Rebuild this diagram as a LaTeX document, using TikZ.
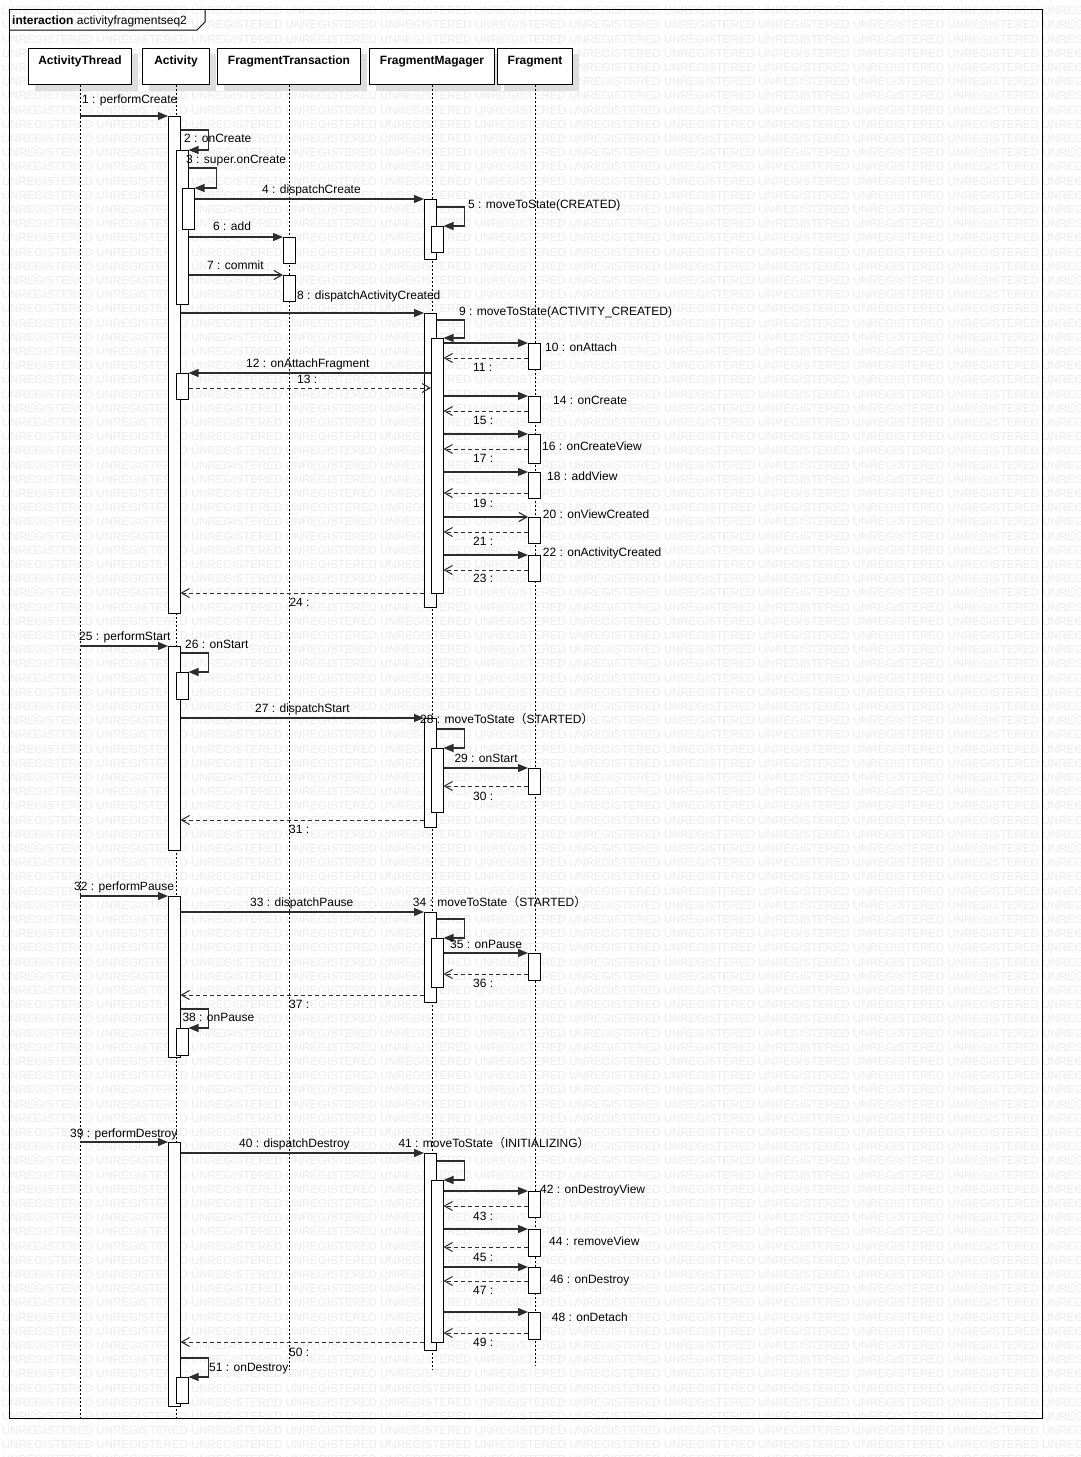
\documentclass[tikz,border=0pt]{standalone}
\usepackage{fontspec}
\setmainfont{Liberation Sans}
\newfontfamily\cjkfont{Noto Sans CJK SC}
\usepackage{tikz}
\usetikzlibrary{positioning, calc, arrows.meta, shadows}
\definecolor{inkgray}{RGB}{45, 45, 45}
\definecolor{wmgray}{RGB}{236, 236, 236}
\newcommand{\fwl}{{\cjkfont （}}
\newcommand{\fwr}{{\cjkfont ）}}
\newcommand{\wmtext}{UNREGISTERED UNREGISTERED UNREGISTERED UNREGISTERED UNREGISTERED UNREGISTERED UNREGISTERED UNREGISTERED UNREGISTERED UNREGISTERED UNREGISTERED UNREGISTERED}

\begin{document}
\begin{tikzpicture}[
      x=1pt, y=-1pt,
      font=\fontsize{12}{14}\selectfont,
      lifebox/.style={draw=black, fill=white, line width=1pt, outer sep=0pt, anchor=north,
        font=\fontsize{12}{14}\selectfont\bfseries, inner xsep=0pt, inner ysep=7.3pt,
        text height=9pt, text depth=12.9pt,
        drop shadow={shadow xshift=6pt, shadow yshift=-6pt, fill=black!13, opacity=1}},
      actbar/.style={draw=black, fill=white, line width=1pt, outer sep=0pt, inner sep=0pt,
        minimum width=12.5pt, anchor=north west},
      lifeline/.style={draw=black, line width=0.9pt, dash pattern=on 2pt off 2pt},
      calledge/.style={draw=inkgray, line width=1.1pt, -{Triangle[length=10pt, width=8pt]}},
      asyncedge/.style={draw=inkgray, line width=1.1pt, -{Straight Barb[length=8pt, width=9pt]}},
      replyedge/.style={draw=inkgray, line width=1pt, dash pattern=on 4pt off 3pt,
        -{Straight Barb[length=8pt, width=9pt]}},
      msglabel/.style={anchor=west, inner sep=0pt, text height=8.6pt, text depth=0pt},
      wmark/.style={anchor=west, inner sep=0pt, text=wmgray, font=\fontsize{11.5}{12}\selectfont}
    ]
      \fill[white] (0,0) rectangle (1080,1457);
      \useasboundingbox (0,0) rectangle (1080,1457);

      % Watermark
      \begin{scope}
        \clip (0,0) rectangle (1080,1457);
        \foreach \row in {0,...,103}
          \node[wmark] (wm\row) at (1.7, {-3.5+14.2*\row}) {\wmtext};
      \end{scope}

      % Frame
      \draw[line width=1pt] (9.5,9.5) rectangle (1042.5,1418);
      \draw[line width=1pt] (9.5,30) -- (197,30) -- (205,22) -- (205,9.5);
      \node[msglabel] (title) at (12,20) {\textbf{interaction} activityfragmentseq2};

      % Lifelines
      \node[lifebox, minimum width=103pt] (hAT) at (80,48) {ActivityThread};
      \node[lifebox, minimum width=67pt] (hAct) at (176,48) {Activity};
      \node[lifebox, minimum width=143pt] (hFT) at (289,48) {FragmentTransaction};
      \node[lifebox, minimum width=125pt] (hFM) at (432,48) {FragmentMagager};
      \node[lifebox, minimum width=75pt] (hFr) at (535,48) {Fragment};

      \draw[lifeline] (hAT.south) -- (hAT.south |- 0,1418);
      \draw[lifeline] (hAct.south) -- (hAct.south |- 0,1418);
      \draw[lifeline] (hFT.south) -- (hFT.south |- 0,1370);
      \draw[lifeline] (hFM.south) -- (hFM.south |- 0,1370);
      \draw[lifeline] (hFr.south) -- (hFr.south |- 0,1365);

      % Activations: Activity
      \node[actbar, minimum height=497pt] (aA1) at (168,116) {};
      \node[actbar, minimum height=154pt] (aA1a) at (176,150) {};
      \node[actbar, minimum height=41pt] (aA1b) at (182,188) {};
      \node[actbar, minimum height=26pt] (aA1c) at (176,373) {};
      \node[actbar, minimum height=204pt] (aA2) at (168,646) {};
      \node[actbar, minimum height=27pt] (aA2a) at (176,672) {};
      \node[actbar, minimum height=161pt] (aA3) at (168,896) {};
      \node[actbar, minimum height=27pt] (aA3a) at (176,1028) {};
      \node[actbar, minimum height=264pt] (aA4) at (168,1142) {};
      \node[actbar, minimum height=26pt] (aA4a) at (176,1377) {};

      % Activations: FragmentTransaction
      \node[actbar, minimum height=26pt] (fT1) at (283,237) {};
      \node[actbar, minimum height=26pt] (fT2) at (283,275) {};

      % Activations: FragmentMagager
      \node[actbar, minimum height=60pt] (fM1) at (424,199) {};
      \node[actbar, minimum height=26pt] (fM1a) at (431,226) {};
      \node[actbar, minimum height=294pt] (fM2) at (424,313) {};
      \node[actbar, minimum height=255pt] (fM2a) at (431,338) {};
      \node[actbar, minimum height=109pt] (fM3) at (424,718) {};
      \node[actbar, minimum height=64pt] (fM3a) at (431,748) {};
      \node[actbar, minimum height=90pt] (fM4) at (424,912) {};
      \node[actbar, minimum height=49pt] (fM4a) at (431,938) {};
      \node[actbar, minimum height=197pt] (fM5) at (424,1153) {};
      \node[actbar, minimum height=162pt] (fM5a) at (431,1180) {};

      % Activations: Fragment
      \node[actbar, minimum height=26pt] (f1) at (528,343) {};
      \node[actbar, minimum height=26pt] (f2) at (528,396) {};
      \node[actbar, minimum height=29pt] (f3) at (528,434) {};
      \node[actbar, minimum height=26pt] (f4) at (528,472) {};
      \node[actbar, minimum height=26pt] (f5) at (528,517) {};
      \node[actbar, minimum height=26pt] (f6) at (528,555) {};
      \node[actbar, minimum height=26pt] (f7) at (528,768) {};
      \node[actbar, minimum height=27pt] (f8) at (528,953) {};
      \node[actbar, minimum height=26pt] (f9) at (528,1191) {};
      \node[actbar, minimum height=27pt] (f10) at (528,1229) {};
      \node[actbar, minimum height=26pt] (f11) at (528,1267) {};
      \node[actbar, minimum height=27pt] (f12) at (528,1312) {};

      % onCreate
      \draw[calledge] (hAT.south |- aA1.north) -- (aA1.north west);
      \draw[calledge] (aA1.east |- 0,130) -- ++(28,0) |- (aA1a.north east);
      \draw[calledge] (aA1a.east |- 0,168) -- ++(28,0) |- (aA1b.north east);
      \draw[calledge] (aA1b.east |- fM1.north) -- (fM1.north west);
      \draw[calledge] (fM1.east |- 0,207) -- ++(28,0) |- (fM1a.north east);
      \draw[calledge] (aA1a.east |- fT1.north) -- (fT1.north west);
      \draw[asyncedge] (aA1a.east |- fT2.north) -- (fT2.north west);
      \draw[calledge] (aA1.east |- fM2.north) -- (fM2.north west);
      \draw[calledge] (fM2.east |- 0,320) -- ++(28,0) |- (fM2a.north east);
      \draw[calledge] (fM2a.east |- f1.north) -- (f1.north west);
      \draw[replyedge] (f1.west |- 0,358) -- (fM2a.east |- 0,358);
      \draw[calledge] (fM2a.west |- aA1c.north) -- (aA1c.north east);
      \draw[replyedge] (aA1c.east |- 0,388) -- (fM2a.west |- 0,388);
      \draw[calledge] (fM2a.east |- f2.north) -- (f2.north west);
      \draw[replyedge] (f2.west |- 0,411) -- (fM2a.east |- 0,411);
      \draw[calledge] (fM2a.east |- f3.north) -- (f3.north west);
      \draw[replyedge] (f3.west |- 0,449) -- (fM2a.east |- 0,449);
      \draw[calledge] (fM2a.east |- f4.north) -- (f4.north west);
      \draw[replyedge] (f4.west |- 0,493) -- (fM2a.east |- 0,493);
      \draw[asyncedge] (fM2a.east |- f5.north) -- (f5.north west);
      \draw[replyedge] (f5.west |- 0,532) -- (fM2a.east |- 0,532);
      \draw[calledge] (fM2a.east |- f6.north) -- (f6.north west);
      \draw[replyedge] (f6.west |- 0,570) -- (fM2a.east |- 0,570);
      \draw[replyedge] (fM2.west |- 0,593) -- (aA1.east |- 0,593);

      % onStart
      \draw[calledge] (hAT.south |- aA2.north) -- (aA2.north west);
      \draw[calledge] (aA2.east |- 0,653) -- ++(28,0) |- (aA2a.north east);
      \draw[calledge] (aA2.east |- fM3.north) -- (fM3.north west);
      \draw[calledge] (fM3.east |- 0,729) -- ++(28,0) |- (fM3a.north east);
      \draw[calledge] (fM3a.east |- f7.north) -- (f7.north west);
      \draw[replyedge] (f7.west |- 0,786) -- (fM3a.east |- 0,786);
      \draw[replyedge] (fM3.west |- 0,820) -- (aA2.east |- 0,820);

      % onPause
      \draw[calledge] (hAT.south |- aA3.north) -- (aA3.north west);
      \draw[calledge] (aA3.east |- fM4.north) -- (fM4.north west);
      \draw[calledge] (fM4.east |- 0,919) -- ++(28,0) |- (fM4a.north east);
      \draw[calledge] (fM4a.east |- f8.north) -- (f8.north west);
      \draw[replyedge] (f8.west |- 0,974) -- (fM4a.east |- 0,974);
      \draw[replyedge] (fM4.west |- 0,995) -- (aA3.east |- 0,995);
      \draw[calledge] (aA3.east |- 0,1009) -- ++(28,0) |- (aA3a.north east);

      % onDestroy
      \draw[calledge] (hAT.south |- aA4.north) -- (aA4.north west);
      \draw[calledge] (aA4.east |- fM5.north) -- (fM5.north west);
      \draw[calledge] (fM5.east |- 0,1161) -- ++(28,0) |- (fM5a.north east);
      \draw[calledge] (fM5a.east |- f9.north) -- (f9.north west);
      \draw[replyedge] (f9.west |- 0,1206) -- (fM5a.east |- 0,1206);
      \draw[calledge] (fM5a.east |- f10.north) -- (f10.north west);
      \draw[replyedge] (f10.west |- 0,1247) -- (fM5a.east |- 0,1247);
      \draw[calledge] (fM5a.east |- f11.north) -- (f11.north west);
      \draw[replyedge] (f11.west |- 0,1281) -- (fM5a.east |- 0,1281);
      \draw[calledge] (fM5a.east |- f12.north) -- (f12.north west);
      \draw[replyedge] (f12.west |- 0,1333) -- (fM5a.east |- 0,1333);
      \draw[replyedge] (fM5.west |- 0,1342) -- (aA4.east |- 0,1342);
      \draw[calledge] (aA4.east |- 0,1358) -- ++(28,0) |- (aA4a.north east);

      % Labels
      \node[msglabel] (l1) at (82,99) {1 : performCreate};
      \node[msglabel] (l2) at (184,138) {2 : onCreate};
      \node[msglabel] (l3) at (186,159) {3 : super.onCreate};
      \node[msglabel] (l4) at (262,189) {4 : dispatchCreate};
      \node[msglabel] (l5) at (468,204) {5 : moveToState(CREATED)};
      \node[msglabel] (l6) at (213,226) {6 : add};
      \node[msglabel] (l7) at (207,265.5) {7 : commit};
      \node[msglabel] (l8) at (297,295) {8 : dispatchActivityCreated};
      \node[msglabel] (l9) at (459,310.7) {9 : moveToState(ACTIVITY\_CREATED)};
      \node[msglabel] (l10) at (545,347) {10 : onAttach};
      \node[msglabel] (l11) at (473,367) {11 :};
      \node[msglabel] (l12) at (246,362.7) {12 : onAttachFragment};
      \node[msglabel] (l13) at (297,379) {13 :};
      \node[msglabel] (l14) at (553,400) {14 : onCreate};
      \node[msglabel] (l15) at (473,420) {15 :};
      \node[msglabel] (l16) at (542,445.7) {16 : onCreateView};
      \node[msglabel] (l17) at (473,457.7) {17 :};
      \node[msglabel] (l18) at (547,475.7) {18 : addView};
      \node[msglabel] (l19) at (473,503.3) {19 :};
      \node[msglabel] (l20) at (542.7,514.3) {20 : onViewCreated};
      \node[msglabel] (l21) at (473,540.7) {21 :};
      \node[msglabel] (l22) at (542.7,552.3) {22 : onActivityCreated};
      \node[msglabel] (l23) at (473,578.3) {23 :};
      \node[msglabel] (l24) at (289.3,602.3) {24 :};
      \node[msglabel] (l25) at (79,636) {25 : performStart};
      \node[msglabel] (l26) at (185,644) {26 : onStart};
      \node[msglabel] (l27) at (255,707.7) {27 : dispatchStart};
      \node[msglabel] (l28) at (420,719.3) {28 : moveToState\fwl STARTED\fwr};
      \node[msglabel] (l29) at (454.3,757.7) {29 : onStart};
      \node[msglabel] (l30) at (473,795.7) {30 :};
      \node[msglabel] (l31) at (289,829.3) {31 :};
      \node[msglabel] (l32) at (74,886) {32 : performPause};
      \node[msglabel] (l33) at (250,902.3) {33 : dispatchPause};
      \node[msglabel] (l34) at (412.7,901.7) {34 : moveToState\fwl STARTED\fwr};
      \node[msglabel] (l35) at (450,944) {35 : onPause};
      \node[msglabel] (l36) at (473,983.3) {36 :};
      \node[msglabel] (l37) at (289,1004.3) {37 :};
      \node[msglabel] (l38) at (182.3,1017.3) {38 : onPause};
      \node[msglabel] (l39) at (70,1132.7) {39 : performDestroy};
      \node[msglabel] (l40) at (239,1143.3) {40 : dispatchDestroy};
      \node[msglabel] (l41) at (398.3,1143.3) {41 : moveToState\fwl INITIALIZING\fwr};
      \node[msglabel] (l42) at (540,1189) {42 : onDestroyView};
      \node[msglabel] (l43) at (473,1216) {43 :};
      \node[msglabel] (l44) at (549,1240.7) {44 : removeView};
      \node[msglabel] (l45) at (473,1256.7) {45 :};
      \node[msglabel] (l46) at (550,1279) {46 : onDestroy};
      \node[msglabel] (l47) at (473,1290) {47 :};
      \node[msglabel] (l48) at (551.7,1316.7) {48 : onDetach};
      \node[msglabel] (l49) at (473,1342.3) {49 :};
      \node[msglabel] (l50) at (289,1352.3) {50 :};
      \node[msglabel] (l51) at (209,1366.7) {51 : onDestroy};
    \end{tikzpicture}
\end{document}
